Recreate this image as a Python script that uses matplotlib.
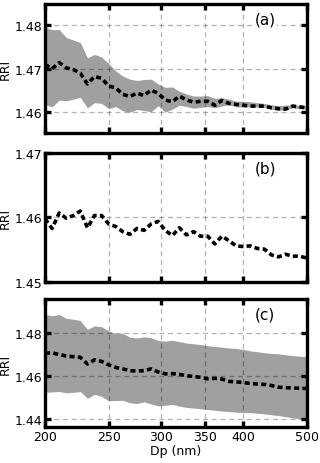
import numpy as np
import matplotlib
matplotlib.use("Agg")
import matplotlib.pyplot as plt

# particle diameter grid (nm), log-spaced bins
dp = [200.0, 205.0, 210.2, 215.4, 220.8, 226.3, 232.0, 237.8, 243.8, 249.9,
      256.1, 262.5, 269.1, 275.9, 282.8, 289.9, 297.1, 304.6, 312.2, 320.0,
      328.0, 336.3, 344.7, 353.3, 362.2, 371.3, 380.6, 390.1, 399.9, 409.9,
      420.2, 430.7, 441.5, 452.6, 463.9, 475.5, 487.4, 500.0]

# panel (a)
rri_a = [1.4710, 1.4700, 1.4714, 1.4702, 1.4698, 1.4690, 1.4665, 1.4682, 1.4678, 1.4660,
         1.4656, 1.4641, 1.4636, 1.4644, 1.4638, 1.4651, 1.4643, 1.4628, 1.4624, 1.4637,
         1.4628, 1.4623, 1.4625, 1.4625, 1.4616, 1.4627, 1.4620, 1.4618, 1.4616, 1.4614,
         1.4614, 1.4614, 1.4610, 1.4608, 1.4607, 1.4614, 1.4612, 1.4610]
upper_a = [1.4795, 1.4790, 1.4790, 1.4772, 1.4766, 1.4760, 1.4725, 1.4733, 1.4727, 1.4712,
           1.4695, 1.4683, 1.4676, 1.4673, 1.4675, 1.4676, 1.4665, 1.4657, 1.4658, 1.4648,
           1.4642, 1.4637, 1.4637, 1.4638, 1.4632, 1.4633, 1.4630, 1.4625, 1.4625, 1.4624,
           1.4622, 1.4620, 1.4617, 1.4615, 1.4616, 1.4617, 1.4616, 1.4615]
lower_a = [1.4618, 1.4612, 1.4628, 1.4626, 1.4630, 1.4634, 1.4610, 1.4622, 1.4620, 1.4608,
           1.4613, 1.4603, 1.4600, 1.4606, 1.4604, 1.4601, 1.4615, 1.4600, 1.4607, 1.4616,
           1.4613, 1.4609, 1.4611, 1.4613, 1.4610, 1.4614, 1.4617, 1.4612, 1.4612, 1.4612,
           1.4612, 1.4611, 1.4607, 1.4604, 1.4606, 1.4610, 1.4608, 1.4607]

# panel (b)
rri_b = [1.4598, 1.4583, 1.4607, 1.4599, 1.4603, 1.4610, 1.4584, 1.4603, 1.4603, 1.4590,
         1.4586, 1.4578, 1.4574, 1.4583, 1.4580, 1.4590, 1.4594, 1.4580, 1.4572, 1.4584,
         1.4573, 1.4578, 1.4571, 1.4571, 1.4559, 1.4571, 1.4564, 1.4556, 1.4555, 1.4556,
         1.4552, 1.4551, 1.4542, 1.4539, 1.4543, 1.4540, 1.4540, 1.4537]

# panel (c)
rri_c = [1.4706, 1.4708, 1.4700, 1.4693, 1.4690, 1.4687, 1.4656, 1.4675, 1.4668, 1.4652,
         1.4640, 1.4633, 1.4625, 1.4623, 1.4625, 1.4633, 1.4619, 1.4610, 1.4611, 1.4608,
         1.4601, 1.4598, 1.4594, 1.4587, 1.4589, 1.4586, 1.4575, 1.4573, 1.4570, 1.4565,
         1.4563, 1.4561, 1.4556, 1.4548, 1.4546, 1.4544, 1.4543, 1.4542]
upper_c = [1.4886, 1.4880, 1.4886, 1.4868, 1.4864, 1.4858, 1.4817, 1.4833, 1.4829, 1.4810,
           1.4797, 1.4799, 1.4780, 1.4777, 1.4782, 1.4778, 1.4765, 1.4762, 1.4766, 1.4760,
           1.4753, 1.4750, 1.4746, 1.4741, 1.4737, 1.4734, 1.4730, 1.4728, 1.4724, 1.4717,
           1.4713, 1.4708, 1.4705, 1.4703, 1.4699, 1.4695, 1.4692, 1.4690]
lower_c = [1.4524, 1.4526, 1.4528, 1.4522, 1.4524, 1.4528, 1.4496, 1.4515, 1.4505, 1.4485,
           1.4486, 1.4487, 1.4476, 1.4472, 1.4480, 1.4470, 1.4461, 1.4464, 1.4468, 1.4460,
           1.4454, 1.4451, 1.4448, 1.4444, 1.4441, 1.4437, 1.4435, 1.4432, 1.4430, 1.4430,
           1.4427, 1.4424, 1.4420, 1.4416, 1.4411, 1.4405, 1.4402, 1.4399]

xticks = [200, 250, 300, 350, 400, 500]

fig = plt.figure(figsize=(3.2, 4.64), dpi=100)

left, width = 45 / 320, 262 / 464 * 464 / 320
boxes = [(5, 134), (154, 283), (300, 428)]  # top/bottom pixel rows
panels = [
    dict(mean=rri_a, lo=lower_a, hi=upper_a, ylim=(1.4552, 1.4849),
         yticks=[1.46, 1.47, 1.48], label="(a)"),
    dict(mean=rri_b, lo=None, hi=None, ylim=(1.45, 1.47),
         yticks=[1.45, 1.46, 1.47], label="(b)"),
    dict(mean=rri_c, lo=lower_c, hi=upper_c, ylim=(1.4363, 1.4958),
         yticks=[1.44, 1.46, 1.48], label="(c)"),
]

for k, (p, (top, bot)) in enumerate(zip(panels, boxes)):
    ax = fig.add_axes([left, 1 - bot / 464, width, (bot - top) / 464])
    if p["lo"] is not None:
        ax.fill_between(dp, p["lo"], p["hi"], color="#a0a0a0", lw=0, zorder=1)
    ax.plot(dp, p["mean"], color="black", lw=2.6, ls=(0, (1.4, 0.9)), zorder=3)
    ax.set_xscale("log")
    ax.set_xlim(200, 500)
    ax.set_ylim(*p["ylim"])
    ax.set_xticks(xticks)
    ax.minorticks_off()
    if k == 2:
        ax.set_xticklabels([str(t) for t in xticks])
        ax.set_xlabel("Dp (nm)", fontsize=9, labelpad=1)
    else:
        ax.set_xticklabels([])
    ax.set_yticks(p["yticks"])
    ax.set_yticklabels(["%.2f" % v for v in p["yticks"]])
    ax.set_ylabel("RRI", fontsize=9, labelpad=2)
    ax.grid(True, color="black", alpha=0.3, ls=(0, (4, 3)), lw=0.9, zorder=2)
    ax.set_axisbelow(False)
    for s in ax.spines.values():
        s.set_linewidth(2.4)
        s.set_zorder(4)
    ax.tick_params(direction="in", length=4, width=2.4, top=True, right=True,
                   labelsize=9, pad=2)
    ax.text(0.84, 0.88, p["label"], transform=ax.transAxes, fontsize=11,
            ha="center", va="center", zorder=5,
            bbox=dict(facecolor="white", edgecolor="none", pad=0.5))

fig.savefig("out.png", dpi=100)
